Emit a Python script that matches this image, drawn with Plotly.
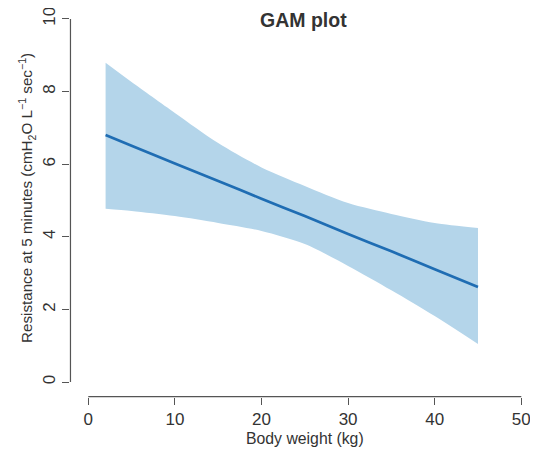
import plotly.graph_objects as go

# Data
body_weight = [2, 5, 10, 15, 20, 25, 30, 35, 40, 45]
fit = [6.80, 6.51, 6.02, 5.54, 5.05, 4.57, 4.08, 3.60, 3.11, 2.62]
upper = [8.79, 8.26, 7.41, 6.58, 5.91, 5.40, 4.93, 4.63, 4.38, 4.24]
lower = [4.77, 4.71, 4.57, 4.38, 4.16, 3.80, 3.20, 2.53, 1.82, 1.05]
x_ticks = [0, 10, 20, 30, 40, 50]
y_ticks = [0, 2, 4, 6, 8, 10]

FONT = "Liberation Sans, Arial, Helvetica, sans-serif"
AXIS_COL = "#555555"
TXT_COL = "#333333"
BAND_COL = "#b4d5ea"
LINE_COL = "#1f6db3"

X_RANGE = [-2.11, 51.93]
Y_RANGE = [-0.41, 10.30]

# page has an 8px body margin; figure is sized so that it fits the window
FIG_W, FIG_H = 530, 446
ML, MR, MT, MB = 62, 0, 0, 57
PW = FIG_W - ML - MR
PH = FIG_H - MT - MB


def px_x(v):
    return (v - X_RANGE[0]) / (X_RANGE[1] - X_RANGE[0])


def px_y(v):
    return (v - Y_RANGE[0]) / (Y_RANGE[1] - Y_RANGE[0])


def page_x(p):
    return (p - 8 - ML) / PW


def page_y(p):
    return (MT + PH - (p - 8)) / PH


fig = go.Figure()
fig.add_trace(go.Scatter(
    x=body_weight, y=lower, mode="lines",
    line=dict(width=0, color=BAND_COL, shape="spline", smoothing=0.8),
    hoverinfo="skip", showlegend=False,
))
fig.add_trace(go.Scatter(
    x=body_weight, y=upper, mode="lines",
    fill="tonexty", fillcolor=BAND_COL,
    line=dict(width=0, color=BAND_COL, shape="spline", smoothing=0.8),
    hoverinfo="skip", showlegend=False,
))
fig.add_trace(go.Scatter(
    x=body_weight, y=fit, mode="lines",
    line=dict(color=LINE_COL, width=2.7, shape="spline", smoothing=0.6),
    showlegend=False,
))

# R-style detached axis lines spanning first to last tick
fig.add_shape(type="line", xref="paper", yref="paper",
              x0=px_x(x_ticks[0]), x1=px_x(x_ticks[-1]), y0=0.001, y1=0.001,
              line=dict(color=AXIS_COL, width=1.2), layer="above")
fig.add_shape(type="line", xref="paper", yref="paper",
              x0=0.001, x1=0.001, y0=px_y(y_ticks[0]), y1=px_y(y_ticks[-1]),
              line=dict(color=AXIS_COL, width=1.2), layer="above")

fig.update_layout(
    width=FIG_W, height=FIG_H,
    margin=dict(l=ML, r=MR, t=MT, b=MB, pad=0),
    paper_bgcolor="white", plot_bgcolor="white",
    font=dict(family=FONT, color=TXT_COL, size=16),
    xaxis=dict(range=X_RANGE, tickvals=x_ticks, ticks="outside",
               ticklen=7, tickcolor=AXIS_COL, tickwidth=1.2,
               showgrid=False, zeroline=False, showline=False,
               automargin=False, ticklabeloverflow="allow",
               tickfont=dict(size=17, color=TXT_COL)),
    yaxis=dict(range=Y_RANGE, tickvals=y_ticks, ticks="outside",
               ticklen=7, tickcolor=AXIS_COL, tickwidth=1.2,
               showgrid=False, zeroline=False, showline=False,
               automargin=False, ticklabeloverflow="allow",
               tickangle=-90, tickfont=dict(size=17, color=TXT_COL)),
    annotations=[
        dict(text="<b>GAM plot</b>", xref="paper", yref="paper",
             x=page_x(303.5), y=page_y(19.5), xanchor="center",
             yanchor="middle", showarrow=False,
             font=dict(size=19.5, color=TXT_COL, family=FONT)),
        dict(text="Body weight (kg)", xref="paper", yref="paper",
             x=page_x(305), y=page_y(438), xanchor="center",
             yanchor="middle", showarrow=False,
             font=dict(size=15.8, color=TXT_COL, family=FONT)),
        dict(text="Resistance at 5 minutes (cmH<sub>2</sub>O L<sup>\u22121</sup> sec<sup>\u22121</sup>)",
             xref="paper", yref="paper", textangle=-90,
             x=page_x(27), y=page_y(198), xanchor="center",
             yanchor="middle", showarrow=False,
             font=dict(size=15.2, color=TXT_COL, family=FONT)),
    ],
)

fig.write_html("out.html")
